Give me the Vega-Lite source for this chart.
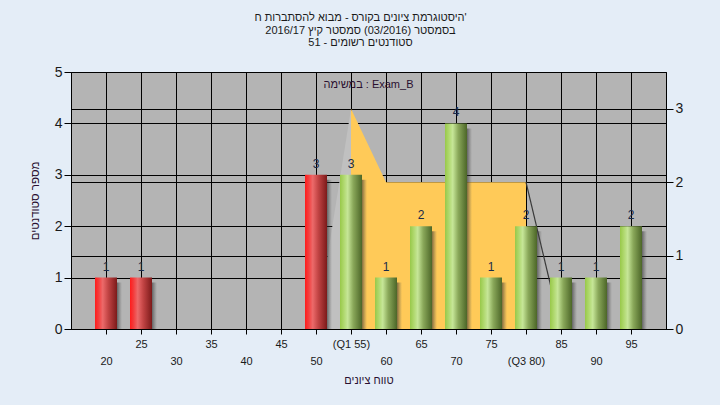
{
  "$schema": "https://vega.github.io/schema/vega-lite/v6.json",
  "width": 595,
  "height": 257,
  "autosize": "none",
  "padding": {"left": 71, "top": 72, "right": 54, "bottom": 76},
  "background": "#e4edf7",
  "config": {
    "view": {"stroke": "black", "strokeWidth": 1, "fill": "#b4b4b4"},
    "font": "Liberation Sans"
  },
  "title": {
    "text": ["היסטוגרמת ציונים בקורס - מבוא להסתברות ח'", "בסמסטר (03/2016) סמסטר קיץ 2016/17", "סטודנטים רשומים - 51"],
    "font": "Liberation Sans",
    "fontSize": 11,
    "fontWeight": "normal",
    "color": "#1a1a1a",
    "lineHeight": 12.5,
    "anchor": "middle",
    "dx": -8,
    "offset": 17
  },
  "datasets": {
    "bars": [
      {"x": 20, "count": 1, "grp": "fail"},
      {"x": 25, "count": 1, "grp": "fail"},
      {"x": 50, "count": 3, "grp": "fail"},
      {"x": 55, "count": 3, "grp": "pass"},
      {"x": 60, "count": 1, "grp": "pass"},
      {"x": 65, "count": 2, "grp": "pass"},
      {"x": 70, "count": 4, "grp": "pass"},
      {"x": 75, "count": 1, "grp": "pass"},
      {"x": 80, "count": 2, "grp": "pass"},
      {"x": 85, "count": 1, "grp": "pass"},
      {"x": 90, "count": 1, "grp": "pass"},
      {"x": 95, "count": 2, "grp": "pass"}
    ],
    "box": [
      {"x": 55, "v": 3},
      {"x": 60, "v": 2},
      {"x": 65, "v": 2},
      {"x": 70, "v": 2},
      {"x": 75, "v": 2},
      {"x": 80, "v": 2}
    ],
    "tri": [
      {"x": 50, "v": 0},
      {"x": 55, "v": 3}
    ],
    "edge": [
      {"x": 80, "v": 2},
      {"x": 85, "v": 0}
    ],
    "note": [
      {"x": 57.5, "count": 4.75, "label": "במשימה : Exam_B"}
    ]
  },
  "encoding": {
    "x": {
      "field": "x",
      "type": "quantitative",
      "scale": {"domain": [15, 100], "nice": false, "zero": false, "padding": 0},
      "axis": {
        "values": [20, 25, 30, 35, 40, 45, 50, 55, 60, 65, 70, 75, 80, 85, 90, 95],
        "labelExpr": "datum.value == 55 ? '(Q1 55)' : datum.value == 80 ? '(Q3 80)' : datum.label",
        "labelPadding": {"condition": {"test": "datum.value % 10 == 0", "value": 21}, "value": 4},
        "labelFont": "Liberation Sans",
        "labelFontSize": 11,
        "labelColor": "#1a1a1a",
        "labelOverlap": false,
        "labelFlush": false,
        "labelBound": false,
        "tickSize": 5,
        "tickColor": "black",
        "domainColor": "black",
        "grid": true,
        "gridColor": "black",
        "gridOpacity": 1,
        "gridWidth": 1,
        "title": "טווח ציונים",
        "titleFont": "Liberation Sans",
        "titleFontSize": 11,
        "titleFontWeight": "normal",
        "titleColor": "#2a1030",
        "titlePadding": 8
      }
    }
  },
  "layer": [
    {
      "encoding": {
        "y": {
          "field": "v",
          "type": "quantitative",
          "scale": {"domain": [0, 3.5], "nice": false},
          "axis": {
            "orient": "right",
            "values": [0, 1, 2, 3],
            "title": null,
            "labelFont": "Liberation Sans",
            "labelFontSize": 14,
            "labelColor": "#1a1a1a",
            "labelPadding": 2,
            "tickSize": 7,
            "tickColor": "black",
            "domainColor": "black",
            "grid": true,
            "gridColor": "black",
            "gridOpacity": 1,
            "gridWidth": 1
          }
        }
      },
      "layer": [
        {"data": {"name": "tri"}, "mark": {"type": "area", "color": "#c0c0c0"}},
        {"data": {"name": "box"}, "mark": {"type": "area", "color": "#ffca58"}},
        {"data": {"name": "edge"}, "mark": {"type": "line", "color": "#3a3a3a", "strokeWidth": 1.2}}
      ]
    },
    {
      "encoding": {
        "y": {
          "field": "count",
          "type": "quantitative",
          "scale": {"domain": [0, 5], "nice": false},
          "axis": {
            "orient": "left",
            "values": [0, 1, 2, 3, 4, 5],
            "title": "מספר סטודנטים",
            "titleFont": "Liberation Sans",
            "titleFontSize": 11.5,
            "titleFontWeight": "normal",
            "titleColor": "#2a1030",
            "titlePadding": 14,
            "labelFont": "Liberation Sans",
            "labelFontSize": 14,
            "labelColor": "#1a1a1a",
            "labelPadding": 2,
            "tickSize": 7,
            "tickColor": "black",
            "domainColor": "black",
            "grid": true,
            "gridColor": "black",
            "gridOpacity": 1,
            "gridWidth": 1
          }
        }
      },
      "layer": [
        {
          "data": {"name": "bars"},
          "mark": {
            "type": "bar",
            "width": 22,
            "xOffset": 5,
            "yOffset": 5,
            "clip": true,
            "fill": {
              "gradient": "linear", "x1": 0, "x2": 1, "y1": 0, "y2": 0,
              "stops": [
                {"offset": 0, "color": "rgba(30,30,30,0.9)"},
                {"offset": 0.72, "color": "rgba(40,40,40,0.75)"},
                {"offset": 1, "color": "rgba(80,80,80,0)"}
              ]
            }
          }
        },
        {
          "data": {"name": "bars"},
          "transform": [{"filter": "datum.grp == 'fail'"}],
          "mark": {
            "type": "bar",
            "width": 22,
            "fill": {
              "gradient": "linear", "x1": 0, "x2": 1, "y1": 0, "y2": 0,
              "stops": [
                {"offset": 0, "color": "#ff1c1c"},
                {"offset": 0.15, "color": "#f43a3a"},
                {"offset": 0.35, "color": "#ec6a6a"},
                {"offset": 0.6, "color": "#c24444"},
                {"offset": 1, "color": "#7c1a1a"}
              ]
            }
          }
        },
        {
          "data": {"name": "bars"},
          "transform": [{"filter": "datum.grp == 'pass'"}],
          "mark": {
            "type": "bar",
            "width": 22,
            "fill": {
              "gradient": "linear", "x1": 0, "x2": 1, "y1": 0, "y2": 0,
              "stops": [
                {"offset": 0, "color": "#98c84a"},
                {"offset": 0.15, "color": "#acd668"},
                {"offset": 0.35, "color": "#c6e698"},
                {"offset": 0.6, "color": "#8aa85a"},
                {"offset": 1, "color": "#4c6628"}
              ]
            }
          }
        },
        {
          "data": {"name": "bars"},
          "mark": {"type": "text", "baseline": "bottom", "dy": -4, "fontSize": 12, "font": "Liberation Sans", "color": "#1a2a4a"},
          "encoding": {"text": {"field": "count", "type": "quantitative"}}
        },
        {
          "data": {"name": "note"},
          "mark": {"type": "text", "fontSize": 11, "font": "Liberation Sans", "color": "#2a1030", "baseline": "middle"},
          "encoding": {"text": {"field": "label", "type": "nominal"}}
        }
      ]
    }
  ],
  "resolve": {"scale": {"y": "independent"}, "axis": {"y": "independent"}}
}
